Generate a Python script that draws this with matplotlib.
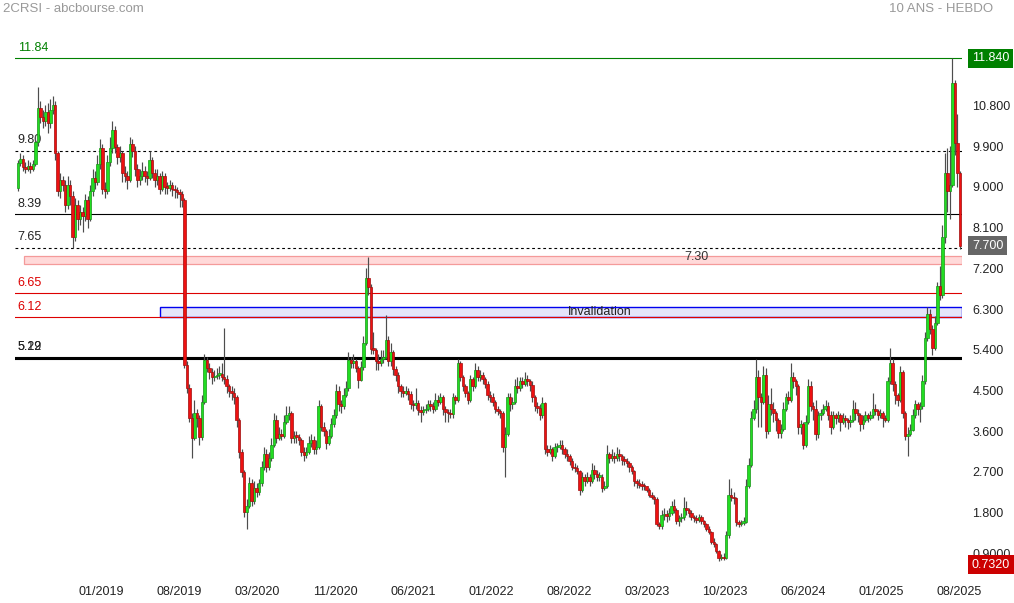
import numpy as np
import matplotlib
matplotlib.use('Agg')
import matplotlib.pyplot as plt
from matplotlib.patches import Rectangle
from matplotlib.transforms import blended_transform_factory

plt.rcParams['font.family'] = ['Liberation Sans', 'DejaVu Sans']

# weekly candles, 2CRSI (open of week = close of previous week)
first_open = 8.97
close = [
    9.52, 9.62, 9.43, 9.40, 9.45, 9.40, 9.50, 9.98, 10.75, 10.55,
    10.45, 10.65, 10.40, 10.70, 10.80, 9.75, 8.90, 9.15, 9.05, 8.60,
    9.05, 8.80, 7.90, 8.60, 8.30, 8.45, 8.35, 8.70, 8.30, 8.90,
    9.20, 9.10, 9.50, 9.85, 8.95, 8.90, 9.55, 9.85, 10.25, 9.88,
    9.65, 9.75, 9.30, 9.25, 9.15, 9.95, 9.80, 9.40, 9.15, 9.25,
    9.35, 9.25, 9.20, 9.60, 9.30, 9.15, 9.25, 8.95, 9.25, 9.00,
    8.98, 9.05, 8.95, 8.92, 8.88, 8.85, 8.70, 5.06, 4.55, 3.90,
    3.45, 4.00, 3.90, 3.47, 4.25, 5.17, 5.00, 4.90, 4.80, 4.82,
    4.85, 4.87, 4.80, 4.75, 4.60, 4.50, 4.45, 4.35, 3.85, 3.14,
    2.70, 1.82, 1.95, 2.45, 2.05, 2.35, 2.25, 2.45, 2.80, 3.10,
    2.80, 3.00, 3.30, 3.85, 3.45, 3.55, 3.50, 3.80, 3.95, 4.00,
    3.45, 3.50, 3.48, 3.40, 3.15, 3.08, 3.15, 3.35, 3.40, 3.20,
    3.25, 4.15, 3.70, 3.60, 3.35, 3.50, 3.75, 3.95, 4.50, 4.20,
    4.15, 4.40, 4.55, 5.17, 5.10, 5.15, 5.00, 4.74, 5.02, 5.56,
    6.98, 6.78, 5.42, 5.40, 5.15, 5.10, 5.20, 5.25, 5.62, 5.15,
    5.35, 4.98, 4.84, 4.60, 4.50, 4.45, 4.50, 4.43, 4.20, 4.18,
    4.22, 4.08, 4.03, 4.06, 4.10, 4.20, 4.15, 4.10, 4.30, 4.25,
    4.35, 4.10, 4.03, 4.00, 3.98, 4.35, 4.30, 5.10, 4.80, 4.60,
    4.45, 4.30, 4.75, 4.60, 4.95, 4.80, 4.85, 4.75, 4.65, 4.40,
    4.35, 4.25, 4.10, 4.05, 4.00, 3.25, 3.55, 4.35, 4.20, 4.25,
    4.60, 4.55, 4.70, 4.65, 4.75, 4.70, 4.62, 4.35, 4.15, 4.12,
    3.95, 4.22, 3.20, 3.15, 3.20, 3.05, 3.25, 3.25, 3.30, 3.20,
    3.10, 3.05, 2.95, 2.80, 2.78, 2.72, 2.30, 2.60, 2.50, 2.58,
    2.50, 2.75, 2.65, 2.60, 2.60, 2.35, 2.40, 3.10, 3.00, 3.05,
    3.00, 3.10, 3.05, 2.97, 2.95, 2.90, 2.80, 2.72, 2.50, 2.45,
    2.42, 2.40, 2.38, 2.30, 2.20, 2.15, 2.10, 1.55, 1.50, 1.75,
    1.78, 1.72, 1.80, 1.95, 1.85, 1.62, 1.68, 1.70, 1.90, 1.85,
    1.80, 1.70, 1.68, 1.65, 1.70, 1.62, 1.55, 1.45, 1.38, 1.15,
    1.10, 0.95, 0.80, 0.82, 0.80, 1.30, 2.20, 2.15, 2.12, 1.60,
    1.55, 1.58, 1.60, 2.40, 2.85, 3.90, 4.10, 4.80, 4.35, 4.25,
    4.85, 3.60, 4.20, 4.10, 4.00, 3.85, 3.57, 3.65, 4.10, 4.35,
    4.30, 4.80, 4.70, 4.60, 3.70, 3.75, 3.30, 3.80, 4.60, 4.15,
    4.10, 3.55, 3.95, 4.00, 4.10, 4.15, 3.95, 3.70, 3.95, 3.90,
    3.95, 3.80, 3.90, 3.85, 3.80, 3.85, 4.10, 4.00, 3.95, 3.75,
    3.85, 3.95, 3.90, 3.95, 4.10, 4.05, 3.95, 4.00, 3.90, 3.85,
    4.70, 5.10, 4.65, 4.40, 4.30, 4.90, 4.00, 3.50, 3.55, 3.63,
    3.95, 4.20, 4.10, 4.15, 4.70, 5.66, 6.20, 5.87, 5.45, 6.00,
    6.80, 6.60, 7.90, 9.30, 8.90, 9.05, 11.30, 9.97, 9.30, 7.70,
]
high = [
    9.60, 9.75, 9.70, 9.55, 9.60, 9.55, 9.60, 10.15, 11.20, 10.90,
    10.70, 10.80, 10.85, 10.95, 11.00, 10.90, 9.80, 9.30, 9.25, 9.15,
    9.25, 9.15, 8.90, 8.75, 8.70, 8.60, 8.55, 8.85, 8.80, 9.05,
    9.40, 9.35, 9.70, 10.05, 9.95, 9.10, 9.70, 10.10, 10.45, 10.35,
    9.95, 9.90, 9.80, 9.45, 9.35, 10.10, 10.05, 9.90, 9.50, 9.40,
    9.55, 9.45, 9.35, 9.80, 9.65, 9.40, 9.40, 9.30, 9.35, 9.30,
    9.10, 9.15, 9.10, 9.05, 9.00, 8.95, 8.90, 8.75, 5.15, 4.65,
    4.00, 4.30, 4.10, 3.95, 4.40, 5.30, 5.25, 5.10, 5.00, 4.95,
    5.00, 5.05, 5.10, 5.88, 4.85, 4.65, 4.60, 4.55, 4.40, 3.90,
    3.20, 2.75, 2.10, 2.60, 2.55, 2.50, 2.45, 2.55, 2.95, 3.25,
    3.20, 3.15, 3.45, 4.00, 3.95, 3.70, 3.65, 3.95, 4.15, 4.15,
    4.05, 3.60, 3.60, 3.55, 3.45, 3.25, 3.25, 3.50, 3.55, 3.50,
    3.40, 4.30, 4.20, 3.80, 3.65, 3.65, 3.90, 4.10, 4.65, 4.60,
    4.30, 4.55, 4.70, 5.35, 5.25, 5.30, 5.20, 5.05, 5.15, 5.70,
    7.20, 7.45, 6.85, 5.80, 5.45, 5.30, 5.40, 5.40, 6.17, 5.70,
    5.55, 5.40, 5.05, 4.90, 4.65, 4.60, 4.60, 4.55, 4.50, 4.30,
    4.55, 4.30, 4.15, 4.15, 4.20, 4.30, 4.30, 4.25, 4.45, 4.40,
    4.45, 4.40, 4.15, 4.10, 4.10, 4.45, 4.40, 5.20, 5.15, 4.85,
    4.65, 4.50, 4.85, 4.80, 5.10, 5.05, 4.95, 4.90, 4.80, 4.70,
    4.50, 4.45, 4.30, 4.15, 4.10, 4.05, 3.70, 4.45, 4.45, 4.35,
    4.75, 4.80, 4.80, 4.80, 4.90, 4.85, 4.75, 4.70, 4.40, 4.25,
    4.20, 4.35, 4.25, 3.30, 3.30, 3.25, 3.35, 3.35, 3.40, 3.40,
    3.25, 3.20, 3.10, 3.00, 2.90, 2.85, 2.75, 2.70, 2.65, 2.70,
    2.65, 2.90, 2.85, 2.75, 2.70, 2.65, 2.50, 3.30, 3.15, 3.20,
    3.15, 3.25, 3.20, 3.10, 3.05, 3.00, 2.95, 2.85, 2.75, 2.55,
    2.55, 2.50, 2.45, 2.40, 2.35, 2.25, 2.20, 2.15, 1.60, 1.85,
    1.90, 1.85, 1.90, 2.05, 2.10, 1.90, 1.75, 1.80, 2.15, 2.05,
    1.90, 1.85, 1.75, 1.75, 1.78, 1.75, 1.65, 1.58, 1.50, 1.40,
    1.25, 1.12, 0.98, 0.88, 0.90, 1.40, 2.55, 2.35, 2.25, 2.15,
    1.65, 1.65, 1.70, 2.55, 3.00, 4.05, 4.30, 5.20, 4.95, 4.45,
    5.05, 5.00, 4.40, 4.55, 4.25, 4.05, 3.90, 3.75, 4.25, 4.45,
    4.50, 5.10, 4.90, 4.75, 4.65, 3.85, 3.80, 3.95, 4.75, 4.70,
    4.25, 4.30, 4.05, 4.10, 4.20, 4.30, 4.25, 4.05, 4.05, 4.00,
    4.05, 4.00, 4.00, 3.95, 3.90, 3.95, 4.30, 4.25, 4.10, 4.00,
    3.95, 4.05, 4.00, 4.05, 4.45, 4.20, 4.10, 4.10, 4.05, 3.95,
    4.80, 5.45, 5.20, 4.70, 4.45, 5.05, 4.95, 4.05, 3.70, 3.75,
    4.10, 4.30, 4.25, 4.25, 4.85, 5.80, 6.35, 6.30, 5.95, 6.15,
    6.90, 7.25, 8.15, 9.74, 9.86, 9.90, 11.84, 11.36, 10.60, 9.35,
]
low = [
    8.90, 9.45, 9.35, 9.30, 9.35, 9.30, 9.35, 9.45, 9.90, 10.40,
    10.30, 10.35, 10.20, 10.30, 10.60, 9.60, 8.80, 8.75, 8.90, 8.45,
    8.50, 8.60, 7.65, 7.80, 8.05, 8.15, 8.00, 8.25, 8.10, 8.25,
    8.80, 8.95, 9.05, 9.40, 8.85, 8.75, 8.85, 9.45, 9.75, 9.75,
    9.50, 9.55, 9.10, 9.10, 8.95, 9.10, 9.65, 9.25, 9.00, 9.05,
    9.15, 9.10, 9.05, 9.15, 9.20, 9.00, 9.05, 8.85, 8.90, 8.85,
    8.85, 8.90, 8.80, 8.75, 8.75, 8.55, 8.55, 5.00, 4.45, 3.80,
    3.00, 3.40, 3.70, 3.30, 3.40, 4.20, 4.90, 4.75, 4.65, 4.70,
    4.75, 4.75, 4.70, 4.65, 4.45, 4.35, 4.30, 4.20, 3.70, 3.00,
    2.60, 1.70, 1.44, 1.90, 1.95, 2.00, 2.15, 2.20, 2.40, 2.75,
    2.70, 2.75, 2.95, 3.25, 3.35, 3.40, 3.40, 3.45, 3.75, 3.85,
    3.35, 3.35, 3.35, 3.30, 3.05, 2.95, 3.00, 3.10, 3.25, 3.10,
    3.10, 3.20, 3.60, 3.50, 3.20, 3.30, 3.45, 3.70, 3.90, 4.05,
    4.00, 4.10, 4.35, 4.50, 5.00, 5.00, 4.90, 4.55, 4.70, 4.95,
    5.50, 6.60, 5.30, 5.30, 4.95, 4.95, 5.05, 5.10, 5.20, 5.05,
    5.05, 4.85, 4.70, 4.45, 4.35, 4.35, 4.40, 4.30, 4.10, 4.05,
    4.10, 3.95, 3.80, 3.95, 4.00, 4.05, 4.05, 4.00, 4.05, 4.15,
    4.20, 3.95, 3.80, 3.80, 3.90, 3.90, 4.20, 4.25, 4.70, 4.50,
    4.35, 4.20, 4.25, 4.50, 4.55, 4.70, 4.70, 4.65, 4.55, 4.30,
    4.25, 4.15, 4.00, 3.95, 3.90, 3.15, 2.60, 3.50, 4.05, 4.10,
    4.20, 4.45, 4.50, 4.55, 4.60, 4.60, 4.50, 4.25, 4.05, 4.00,
    3.85, 3.90, 3.10, 3.05, 3.10, 2.95, 3.00, 3.15, 3.20, 3.10,
    3.00, 2.95, 2.85, 2.75, 2.70, 2.65, 2.20, 2.25, 2.40, 2.45,
    2.40, 2.45, 2.55, 2.50, 2.50, 2.25, 2.30, 2.35, 2.90, 2.95,
    2.90, 2.95, 2.95, 2.85, 2.85, 2.80, 2.70, 2.65, 2.40, 2.35,
    2.35, 2.30, 2.30, 2.25, 2.15, 2.10, 2.00, 1.50, 1.45, 1.45,
    1.65, 1.60, 1.65, 1.75, 1.80, 1.55, 1.50, 1.60, 1.65, 1.75,
    1.70, 1.65, 1.60, 1.58, 1.60, 1.55, 1.48, 1.40, 1.32, 1.10,
    1.05, 0.90, 0.732, 0.76, 0.76, 0.78, 1.25, 2.05, 2.00, 1.50,
    1.48, 1.50, 1.52, 1.58, 2.35, 2.80, 3.85, 4.00, 3.70, 3.70,
    4.20, 3.45, 3.55, 3.95, 3.80, 3.60, 3.45, 3.45, 3.60, 4.05,
    4.20, 4.25, 4.55, 4.40, 3.55, 3.55, 3.20, 3.25, 3.75, 4.05,
    3.85, 3.40, 3.45, 3.85, 3.95, 4.05, 3.85, 3.55, 3.65, 3.75,
    3.80, 3.60, 3.75, 3.70, 3.65, 3.70, 3.80, 3.85, 3.80, 3.60,
    3.65, 3.80, 3.80, 3.85, 3.90, 3.95, 3.85, 3.90, 3.70, 3.80,
    3.80, 4.65, 4.50, 4.20, 4.15, 4.25, 3.90, 3.40, 3.06, 3.50,
    3.60, 3.90, 3.95, 3.80, 4.10, 4.65, 5.60, 5.75, 5.29, 5.40,
    5.95, 6.50, 6.55, 7.75, 8.45, 8.30, 9.00, 9.70, 9.00, 7.62,
]

x_labels = ['01/2019', '08/2019', '03/2020', '11/2020', '06/2021', '01/2022',
            '08/2022', '03/2023', '10/2023', '06/2024', '01/2025', '08/2025']
x_label_idx = [33.4, 64.8, 96.2, 127.6, 159.0, 190.3, 221.7, 253.1, 284.5, 315.9, 347.3, 378.7]

y_ticks = [10.8, 9.9, 9.0, 8.1, 7.2, 6.3, 5.4, 4.5, 3.6, 2.7, 1.8, 0.9]
y_tick_labels = ['10.800', '9.900', '9.000', '8.100', '7.200', '6.300',
                 '5.400', '4.500', '3.600', '2.700', '1.800', '0.9000']

# (value, label, colour, linestyle, linewidth)
levels = [
    (11.84, '11.84', '#008000', '-', 0.8),
    (9.80, '9.80', 'black', (0, (2.5, 2.5)), 0.8),
    (8.39, '8.39', 'black', '-', 0.8),
    (7.65, '7.65', 'black', (0, (2.5, 2.5)), 0.8),
    (6.65, '6.65', '#dd0000', '-', 0.8),
    (6.12, '6.12', '#dd0000', '-', 0.8),
    (5.22, '5.22', 'black', '-', 1.5),
    (5.19, '5.19', 'black', '-', 1.5),
]
pink_zone = (7.30, 7.48)
blue_zone = (6.12, 6.35)
last_price = 7.70
min_price = 0.732
max_price = 11.84

W, H = 1014, 603
fig = plt.figure(figsize=(W / 100, H / 100), dpi=100)
ax = fig.add_axes([15 / W, 1 - 575 / H, 947 / W, 535 / H])
ax.set_xlim(-1.2, 379.9)
ax.set_ylim(0.424, 12.244)
for s in ax.spines.values():
    s.set_visible(False)

trans = blended_transform_factory(ax.transAxes, ax.transData)

# levels
for val, lab, col, ls, lw in levels:
    ax.axhline(val, color=col, linestyle=ls, linewidth=lw, zorder=2)
    # both 5.2x labels are written at the same spot in the reference
    ypos = max(val, 5.22) if val < 5.3 else val
    ax.annotate(lab, xy=(0.003, ypos), xycoords=trans, xytext=(0, 3.2),
                textcoords='offset points', va='bottom', ha='left',
                fontsize=9, color=col if col != 'black' else '#222222')

# zones
ax.add_patch(Rectangle((0.0095, pink_zone[0]), 0.9905, pink_zone[1] - pink_zone[0],
                       transform=trans, facecolor='#ffd9d9', edgecolor='#f49a9a',
                       linewidth=0.9, zorder=1))
ax.text(0.72, pink_zone[1] - 0.02, '7.30', transform=trans, ha='center', va='center',
        fontsize=9, color='#333333', zorder=6)
ax.add_patch(Rectangle((0.153, blue_zone[0]), 0.847, blue_zone[1] - blue_zone[0],
                       transform=trans, facecolor='#e4e4fa', edgecolor='#0000ee',
                       linewidth=1.0, zorder=1))
ax.text(0.618, sum(blue_zone) / 2, 'Invalidation', transform=trans, ha='center',
        va='center', fontsize=9, color='#222222', zorder=6)

# candles
c = np.array(close)
o = np.concatenate([[first_open], c[:-1]])
hi = np.array(high)
lo = np.array(low)
idx = np.arange(len(c))
up = c >= o
ax.vlines(idx, lo, hi, color='#4d4d4d', linewidth=0.85, zorder=3)
body_low = np.minimum(o, c)
body_h = np.maximum(np.abs(c - o), 0.03)
ax.bar(idx[up], body_h[up], bottom=body_low[up], width=1.0,
       color='#22dd22', edgecolor='#179617', linewidth=0.5, zorder=4)
ax.bar(idx[~up], body_h[~up], bottom=body_low[~up], width=1.0,
       color='#ee1111', edgecolor='#a00d0d', linewidth=0.5, zorder=4)

# axes ticks
ax.set_xticks(x_label_idx)
ax.set_xticklabels(x_labels, fontsize=9, color='#222222')
ax.yaxis.tick_right()
ax.set_yticks(y_ticks)
ax.set_yticklabels(y_tick_labels, fontsize=9, color='#222222')
ax.tick_params(axis='both', length=0)
ax.tick_params(axis='x', pad=8)
ax.tick_params(axis='y', pad=7.5)

# price boxes on the right
for val, txt, bg, dy in [(max_price, '11.840', '#008000', 0), (last_price, '7.700', '#666666', 0),
                         (min_price, '0.7320', '#cc0000', -2.5)]:
    ax.annotate(txt, xy=(1.0105, val), xycoords=trans, xytext=(0, dy),
                textcoords='offset points', ha='left', va='center', fontsize=9,
                color='white', zorder=7, annotation_clip=False,
                bbox=dict(boxstyle='square,pad=0.3', facecolor=bg, edgecolor='none'))

fig.text(3 / W, 1 - 9 / H, '2CRSI - abcbourse.com', ha='left', va='center',
         fontsize=9.5, color='#999999')
fig.text(993 / W, 1 - 9 / H, '10 ANS - HEBDO', ha='right', va='center',
         fontsize=9.5, color='#999999')

fig.savefig('out.png', dpi=100)
